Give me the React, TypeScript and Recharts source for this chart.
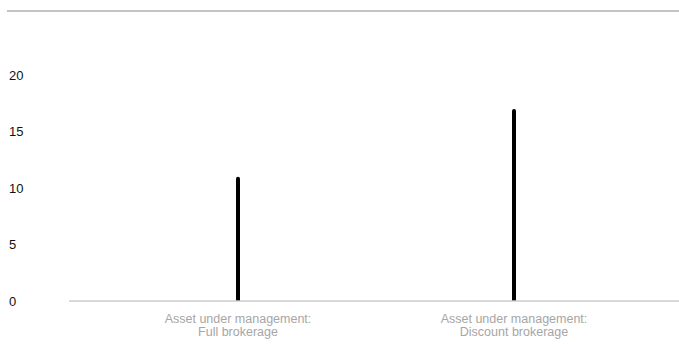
import { BarChart, Bar, XAxis, YAxis } from "recharts";

const categories = ["Asset under management:\nFull brokerage", "Asset under management:\nDiscount brokerage"];
const values = [11, 17];
const yTicks = [0, 5, 10, 15, 20];

const data = categories.map((name, i) => ({ name, value: values[i] }));

const FONT = "'Liberation Sans', Arial, Helvetica, sans-serif";

function XTick(props: any) {
  const { x, y, payload } = props;
  const lines = String(payload.value).split("\n");
  return (
    <text x={x} y={y + 14} textAnchor="middle" fill="#a6a6a6" fontSize={12.5} fontFamily={FONT}>
      {lines.map((l, i) => (
        <tspan key={i} x={x} dy={i === 0 ? 0 : 13}>
          {l}
        </tspan>
      ))}
    </text>
  );
}

function YTick(props: any) {
  const { y, payload } = props;
  return (
    <text x={9} y={y + 4.5} textAnchor="start" fill="#111111" fontSize={13} fontFamily={FONT}>
      {payload.value}
    </text>
  );
}

export default function App() {
  return (
    <div style={{ position: "absolute", left: 0, top: 0, width: 679, height: 344, background: "#fff" }}>
      <div style={{ position: "absolute", left: 7, top: 10, width: 672, height: 2, background: "#c4c4c4" }} />
      <BarChart width={679} height={344} data={data} margin={{ top: 75, right: 0, left: 0, bottom: 0 }}>
        <XAxis
          dataKey="name"
          height={43}
          axisLine={{ stroke: "#cccccc", strokeWidth: 1.5 }}
          tickLine={false}
          tick={<XTick />}
          interval={0}
          padding={{ left: 31, right: 27 }}
        />
        <YAxis
          width={69}
          domain={[0, 20]}
          ticks={yTicks}
          axisLine={false}
          tickLine={false}
          tick={<YTick />}
        />
        <Bar dataKey="value" fill="#000" barSize={4} radius={[2, 2, 0, 0]} isAnimationActive={false} />
      </BarChart>
    </div>
  );
}
